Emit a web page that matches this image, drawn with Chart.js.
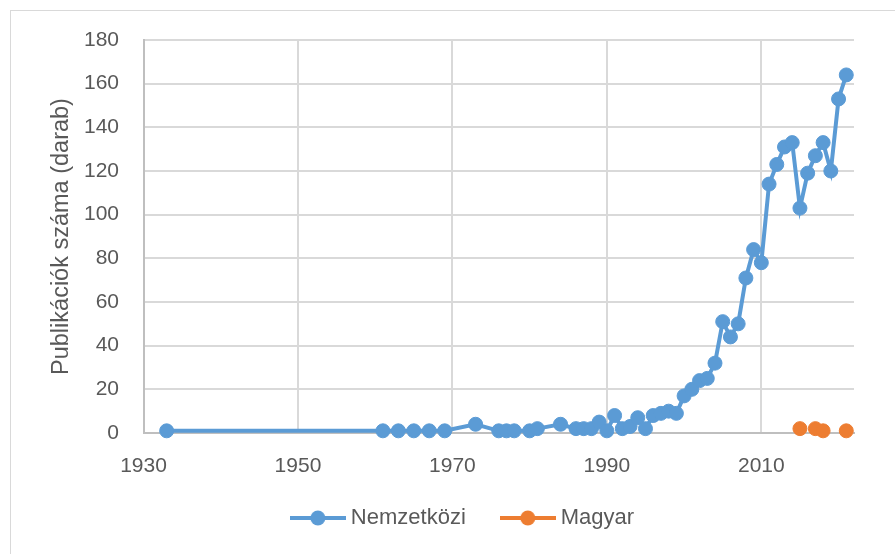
<!DOCTYPE html>
<html>
<head>
<meta charset="utf-8">
<script src="https://cdn.jsdelivr.net/npm/chart.js@4/dist/chart.umd.min.js"></script>
<style>
    html, body { margin: 0; padding: 0; background: #ffffff; overflow: hidden; }
    #frame { position: absolute; left: 10px; top: 10px; width: 900px; height: 560px; border: 1px solid #d9d9d9; }
    #chart { position: absolute; left: 0; top: 0; }
</style>
</head>
<body>
<div id="frame"></div>
<canvas id="chart" width="895" height="554"></canvas>
<script>
// Nemzetközi (international) publications per year
const intlYears = [1933, 1961, 1963, 1965, 1967, 1969, 1973, 1976, 1977, 1978, 1980, 1981, 1984,
    1986, 1987, 1988, 1989, 1990, 1991, 1992, 1993, 1994, 1995, 1996, 1997, 1998, 1999, 2000,
    2001, 2002, 2003, 2004, 2005, 2006, 2007, 2008, 2009, 2010, 2011, 2012, 2013, 2014, 2015,
    2016, 2017, 2018, 2019, 2020, 2021];
const intlCounts = [1, 1, 1, 1, 1, 1, 4, 1, 1, 1, 1, 2, 4,
    2, 2, 2, 5, 1, 8, 2, 3, 7, 2, 8, 9, 10, 9, 17,
    20, 24, 25, 32, 51, 44, 50, 71, 84, 78, 114, 123, 131, 133, 103,
    119, 127, 133, 120, 153, 164];

// Magyar (Hungarian) publications per year, empty years left as gaps
const hunYears = [2015, 2016, 2017, 2018, 2019, 2020, 2021];
const hunCounts = [2, null, 2, 1, null, null, 1];

const seriesNames = ['Nemzetközi', 'Magyar'];
const seriesColors = ['#5b9bd5', '#ed7d31'];

const xTickValues = [1930, 1950, 1970, 1990, 2010];
const yTickValues = [0, 20, 40, 60, 80, 100, 120, 140, 160, 180];

const yTitle = 'Publikációk száma (darab)';

Chart.defaults.color = '#595959';
Chart.defaults.font.family = '"Liberation Sans", Arial, sans-serif';
Chart.defaults.font.size = 21;

// legend icon: line with a circle marker, like the Excel legend
function makeLegendIcon(color) {
    const c = document.createElement('canvas');
    c.width = 56;
    c.height = 16;
    const g = c.getContext('2d');
    g.strokeStyle = color;
    g.lineWidth = 4;
    g.beginPath();
    g.moveTo(0, 8);
    g.lineTo(56, 8);
    g.stroke();
    g.fillStyle = color;
    g.beginPath();
    g.arc(28, 8, 7.5, 0, Math.PI * 2);
    g.fill();
    return c;
}
const legendIcons = seriesColors.map(makeLegendIcon);

// move the legend box a bit right and up, the way Excel places it
const legendNudge = {
    id: 'legendNudge',
    afterLayout(chart) {
        const lg = chart.legend;
        lg.left += 24;
        lg.right += 24;
        lg.top -= 15;
        lg.bottom -= 15;
    }
};

const toPoints = (xs, ys) => xs.map((x, i) => ({ x: x, y: ys[i] }));

const ctx = document.getElementById('chart').getContext('2d');

new Chart(ctx, {
    type: 'line',
    data: {
        datasets: [
            {
                label: seriesNames[0],
                data: toPoints(intlYears, intlCounts),
                borderColor: seriesColors[0],
                backgroundColor: seriesColors[0],
                borderWidth: 4,
                pointRadius: 7,
                pointBorderWidth: 1,
                pointBackgroundColor: seriesColors[0],
                pointBorderColor: seriesColors[0],
                tension: 0,
                clip: false
            },
            {
                label: seriesNames[1],
                data: toPoints(hunYears, hunCounts),
                borderColor: seriesColors[1],
                backgroundColor: seriesColors[1],
                borderWidth: 4,
                pointRadius: 7,
                pointBorderWidth: 1,
                pointBackgroundColor: seriesColors[1],
                pointBorderColor: seriesColors[1],
                spanGaps: false,
                tension: 0,
                clip: false
            }
        ]
    },
    options: {
        responsive: false,
        animation: false,
        events: [],
        layout: {
            padding: { left: 28, right: 41, top: 40, bottom: 0 }
        },
        scales: {
            x: {
                type: 'linear',
                min: 1930,
                max: 2022,
                afterBuildTicks: (scale) => {
                    scale.ticks = xTickValues.map(v => ({ value: v }));
                },
                afterFit: (scale) => { scale.height = 49; },
                ticks: {
                    padding: 21,
                    maxRotation: 0,
                    callback: (v) => String(v)
                },
                grid: { color: '#d9d9d9', lineWidth: 2, drawTicks: false },
                border: { color: '#bfbfbf', width: 2 }
            },
            y: {
                min: 0,
                max: 180,
                afterBuildTicks: (scale) => {
                    scale.ticks = yTickValues.map(v => ({ value: v }));
                },
                afterFit: (scale) => { scale.width = 115.5; },
                ticks: {
                    padding: 24.5,
                    callback: (v) => String(v)
                },
                grid: { color: '#d9d9d9', lineWidth: 2, drawTicks: false },
                border: { color: '#bfbfbf', width: 2 },
                title: {
                    display: true,
                    text: yTitle,
                    font: { size: 23.5 },
                    padding: { top: 19, bottom: 0 }
                }
            }
        },
        plugins: {
            legend: {
                display: true,
                position: 'bottom',
                labels: {
                    usePointStyle: true,
                    pointStyleWidth: 44,
                    padding: 40,
                    font: { size: 22 },
                    generateLabels: (chart) => {
                        const items = Chart.defaults.plugins.legend.labels.generateLabels(chart);
                        items.forEach((item, i) => { item.pointStyle = legendIcons[i]; });
                        return items;
                    }
                }
            },
            tooltip: { enabled: false }
        }
    },
    plugins: [legendNudge]
});
</script>
</body>
</html>
